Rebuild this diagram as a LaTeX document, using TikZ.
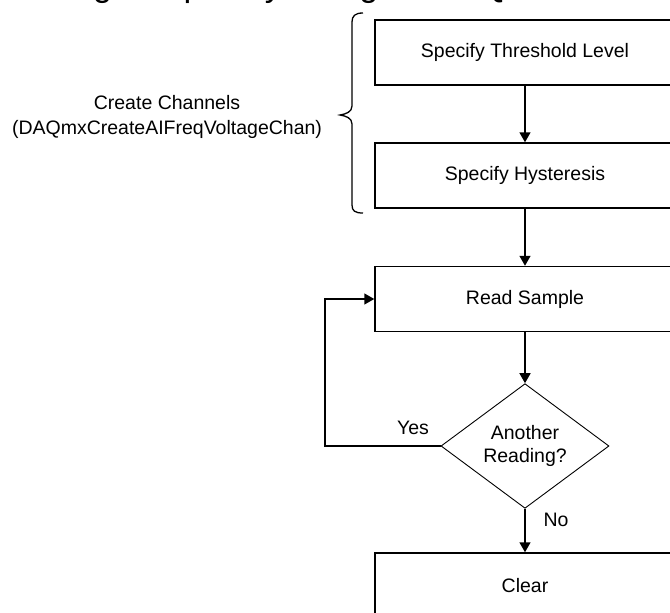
\documentclass[tikz,border=0pt]{standalone}
\usepackage{fontspec}
\setmainfont{Liberation Sans}
\usetikzlibrary{shapes.geometric,arrows.meta}
\begin{document}
\begin{tikzpicture}[x=1pt,y=-1pt,
  txt/.style={font=\fontsize{19.5}{25}\selectfont, inner sep=0pt, align=center},
  procbox/.style={draw=black, line width=1.5pt, minimum width=300pt, minimum height=65pt, inner sep=0pt, font=\fontsize{19.5}{25}\selectfont},
  decision/.style={diamond, draw=black, line width=0.9pt, minimum width=168pt, minimum height=112pt, inner sep=0pt, align=center, font=\fontsize{19.5}{23}\selectfont},
  flow/.style={line width=1.5pt, -{Triangle[width=11pt,length=10pt]}},
  bracestyle/.style={line width=1.3pt}
]
\useasboundingbox (0,0) rectangle (670,613);
\begin{scope}
\clip (0,0) rectangle (670,613);
\node[anchor=base west, font=\fontsize{34}{40}\selectfont, inner sep=0pt] (title) at (-47,-3.5) {Measuring Frequency Using NI-DAQmx};

\node[procbox] (thr) at (525,52.5) {Specify Threshold Level};
\node[procbox] (hys) at (525,175.5) {Specify Hysteresis};
\node[procbox] (rs) at (525,299) {Read Sample};
\node[decision] (dec) at (525,446) {Another\\Reading?};
\node[procbox] (clr) at (525,585.5) {Clear};

\node[txt] (cc) at (167,117) {Create Channels\\(DAQmxCreateAIFreqVoltageChan)};
\node[txt] (yes) at (413,428) {Yes};
\node[txt] (no) at (556,520) {No};

\draw[flow] (thr) -- (hys);
\draw[flow] (hys) -- (rs);
\draw[flow] (rs) -- (dec);
\draw[flow] (dec) -- (clr);
\coordinate (lp) at (325,446);
\draw[flow] (dec.west) -- (lp) |- (rs.west);

\draw[bracestyle] (363,13) .. controls (355,13) and (352,16) .. (352,22) -- (352,106)
  .. controls (352,112) and (346,114) .. (340,115)
  .. controls (346,116) and (352,118) .. (352,124) -- (352,205)
  .. controls (352,211) and (355,213) .. (363,213);
\end{scope}
\end{tikzpicture}
\end{document}
